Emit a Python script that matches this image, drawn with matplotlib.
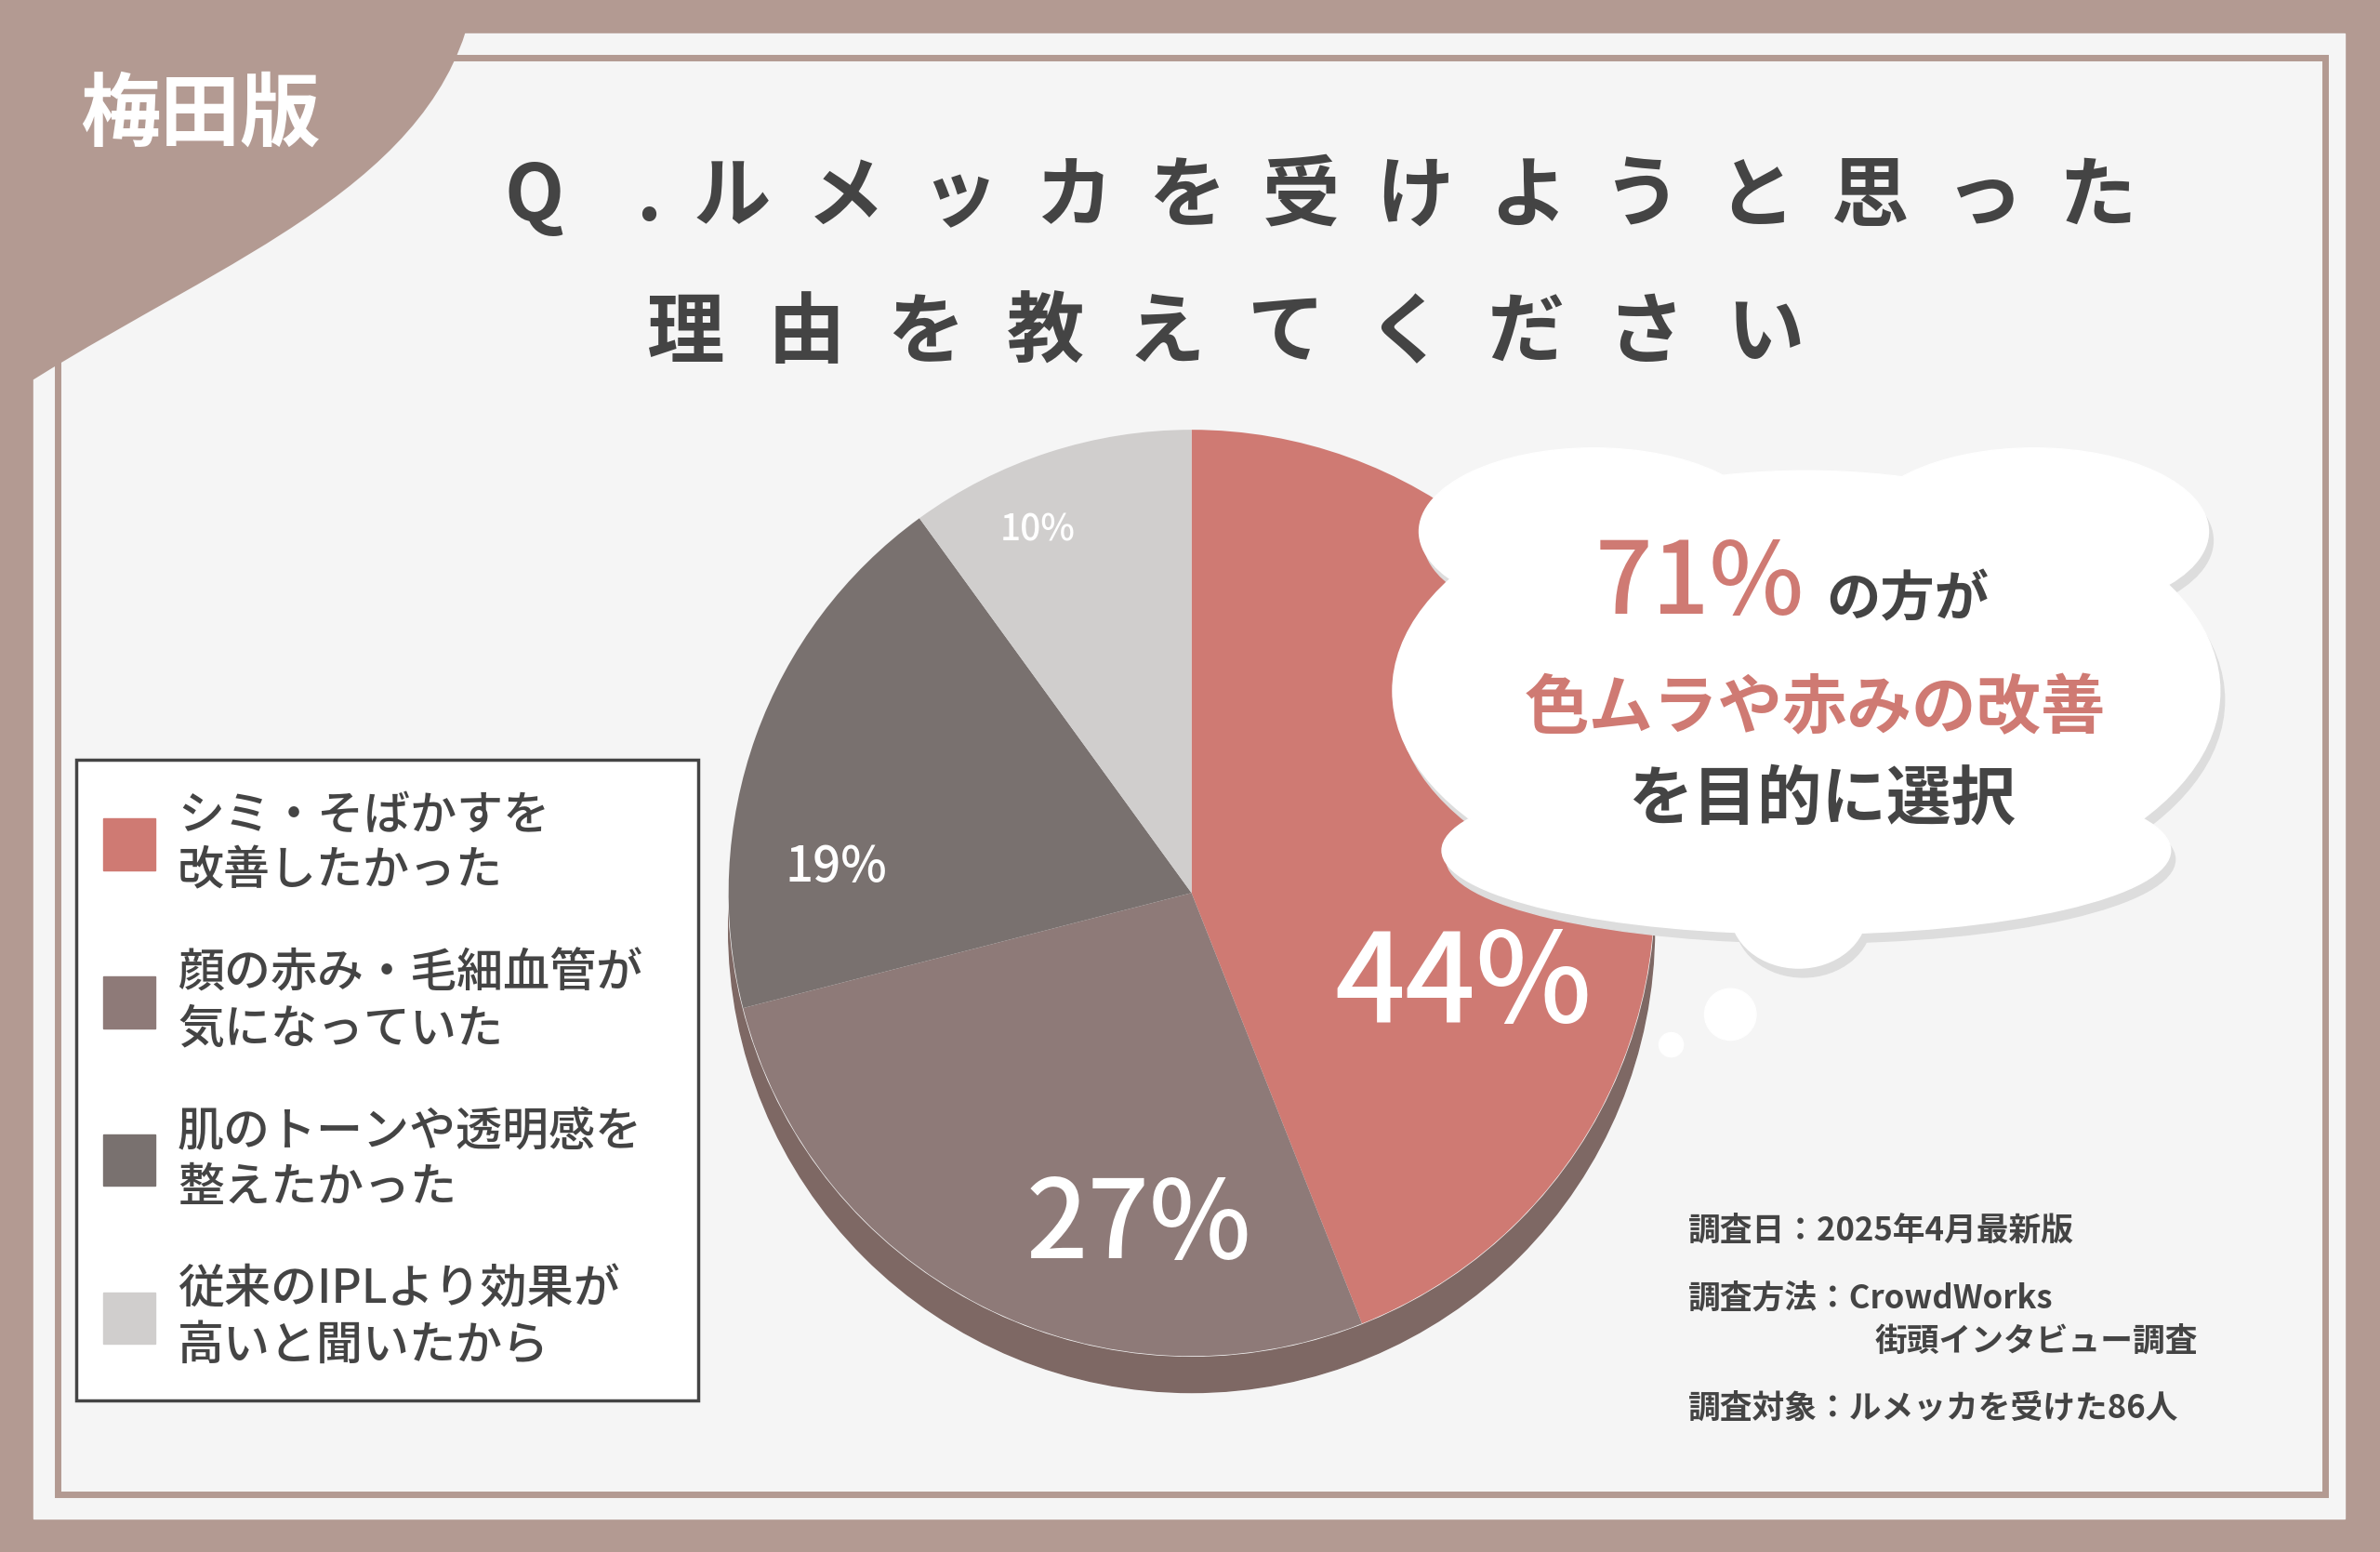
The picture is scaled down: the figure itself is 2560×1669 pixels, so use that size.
import matplotlib.pyplot as plt
import matplotlib.patches as mpatches
from matplotlib.path import Path
import numpy as np

plt.rcParams['font.family'] = 'Noto Sans CJK JP'

labels = ['シミ・そばかすを\n改善したかった', '顔の赤み・毛細血管が\n気になっていた',
          '肌のトーンや透明感を\n整えたかった', '従来のIPLより効果が\n高いと聞いたから']
values = [44, 27, 19, 10]
colors = ['#cf7a73', '#8e7a78', '#79716f', '#d0cecd']
title_1 = 'Q.ルメッカを受けようと思った'
title_2 = '理由を教えてください'

# label styling (size, radius fraction, angle in degrees, y-down)
pct_sizes = [96, 84, 38, 28]
pct_radius = [0.62, 0.73, 0.77, 0.85]
pct_angle = [19, 99, 184, 247]

BROWN = '#b39a92'
W, H = 1568, 1022

fig = plt.figure(figsize=(25.6, 16.69), dpi=100)
fig.patch.set_facecolor(BROWN)
ax = fig.add_axes([0, 0, 1, 1])

# pie (drawn first, axes limits reset afterwards)
cx, cy, r = 785, 588, 305
wedges, _ = ax.pie(values, colors=colors, startangle=-90, counterclock=True,
                   center=(cx, cy), radius=r, frame=True)
for w in wedges:
    w.set_zorder(4)
ax.set_xlim(0, W)
ax.set_ylim(H, 0)
ax.set_aspect('auto')
ax.axis('off')

ax.add_patch(mpatches.Circle((cx, cy + 24), r, color='#7e6864', zorder=3))
ax.add_patch(mpatches.Circle((cx, cy), r, color='#f5f5f5', zorder=3.5))

# panel + inner frame
ax.add_patch(mpatches.Rectangle((22, 22), 1523, 978, color='#f5f5f5', zorder=0))
ax.add_patch(mpatches.Rectangle((38, 38), 1494, 946, fill=False, ec=BROWN, lw=5, zorder=1))

# corner tab
verts = [(0, 0), (312, 0), (312, 0), (290, 120), (150, 170), (22, 250), (0, 250), (0, 0)]
codes = [Path.MOVETO, Path.LINETO, Path.LINETO, Path.CURVE4, Path.CURVE4, Path.CURVE4,
         Path.LINETO, Path.CLOSEPOLY]
ax.add_patch(mpatches.PathPatch(Path(verts, codes), color=BROWN, lw=0, zorder=2))
ax.text(132, 76, '梅田版', color='white', fontsize=62, fontweight='bold',
        ha='center', va='center', zorder=3)

# title, spaced out character by character
for k, ch in enumerate(title_1):
    ax.text(352 + k * 75 - (20 if k > 1 else 0), 130, ch, color='#444444', fontsize=60,
            fontweight='bold', ha='center', va='center')
for k, ch in enumerate(title_2):
    ax.text(452 + k * 79, 220, ch, color='#444444', fontsize=60,
            fontweight='bold', ha='center', va='center')

for i, v in enumerate(values):
    a = np.radians(pct_angle[i])
    tx = cx + pct_radius[i] * r * np.cos(a)
    ty = cy + pct_radius[i] * r * np.sin(a)
    ax.text(tx, ty, f'{v}%', color='white', fontsize=pct_sizes[i], ha='center',
            va='center', zorder=6, fontweight='medium')

# speech bubble
bub = [((1190, 455), 545, 290), ((1190, 560), 480, 110), ((1185, 600), 90, 75),
       ((1050, 350), 230, 110), ((1340, 350), 230, 110)]
for (bx, by), bw, bh in bub:
    ax.add_patch(mpatches.Ellipse((bx + 3, by + 6), bw, bh, color='#dddddd', zorder=4.5))
for (bx, by), bw, bh in bub:
    ax.add_patch(mpatches.Ellipse((bx, by), bw, bh, color='white', zorder=5))
ax.add_patch(mpatches.Circle((1140, 668), 17, color='white', zorder=5))
ax.add_patch(mpatches.Circle((1101, 688), 8, color='white', zorder=5))

ax.text(1120, 385, '71%', color='#cf7a73', fontsize=78, fontweight='medium',
        ha='center', va='center', zorder=7)
ax.text(1203, 395, 'の方が', color='#444444', fontsize=42, fontweight='bold',
        ha='left', va='center', zorder=7)
ax.text(1196, 467, '色ムラや赤みの改善', color='#cf7a73', fontsize=50, fontweight='bold',
        ha='center', va='center', zorder=7)
ax.text(1200, 527, 'を目的に選択', color='#444444', fontsize=50, fontweight='bold',
        ha='center', va='center', zorder=7)

# legend
ax.add_patch(mpatches.Rectangle((50, 500), 410, 422, fc='white', ec='#444444', lw=2.5, zorder=5))
for i, (lab, c) in enumerate(zip(labels, colors)):
    y0 = 556 + i * 104
    ax.add_patch(mpatches.Rectangle((68, y0 - 17), 34, 34, color=c, zorder=6))
    ax.text(117, y0, lab, color='#444444', fontsize=36, fontweight='medium',
            ha='left', va='center', linespacing=1.25, zorder=6)

# survey notes
ax.text(1112, 810, '調査日：2025年4月最新版', color='#444444', fontsize=25,
        fontweight='bold', va='center', zorder=6)
ax.text(1112, 855, '調査方法：CrowdWorks', color='#444444', fontsize=25,
        fontweight='bold', va='center', zorder=6)
ax.text(1235, 883, '街頭インタビュー調査', color='#444444', fontsize=25,
        fontweight='bold', va='center', zorder=6)
ax.text(1112, 927, '調査対象：ルメッカを受けた86人', color='#444444', fontsize=25,
        fontweight='bold', va='center', zorder=6)

fig.savefig('out.png', dpi=100, facecolor=fig.get_facecolor())
